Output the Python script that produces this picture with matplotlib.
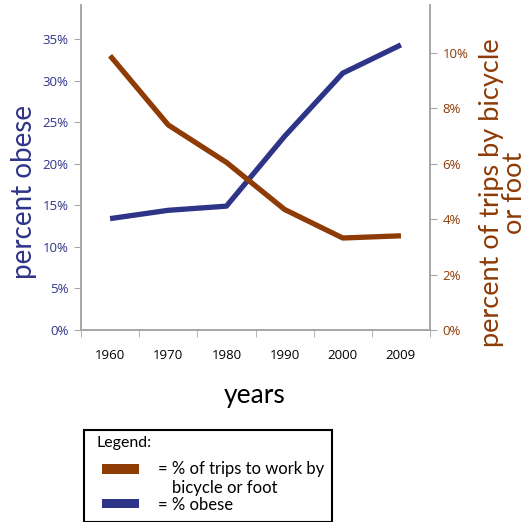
import matplotlib
matplotlib.use("Agg")
import matplotlib.pyplot as plt
from matplotlib.patches import Rectangle
from matplotlib.ticker import FuncFormatter, FixedLocator

years = ["1960", "1970", "1980", "1990", "2000", "2009"]
obese = [13.4, 14.4, 14.9, 23.3, 30.9, 34.3]
trips = [9.9, 7.4, 6.05, 4.35, 3.32, 3.4]
left_ticks = [0, 5, 10, 15, 20, 25, 30, 35]
right_ticks = [0, 2, 4, 6, 8, 10]

BLUE = "#2E3488"
BROWN = "#8E3B06"
GRAY = "#A6A6A6"
TITLE_FONT = ['Lato', 'DejaVu Sans']

plt.rcParams['font.family'] = ['Open Sans', 'DejaVu Sans']

fig = plt.figure(figsize=(5.27, 5.22), dpi=100)
ax = fig.add_axes([81/527, 1-330/522, 349/527, 325/522])
ax2 = ax.twinx()

x = list(range(len(years)))
ax.plot(x, obese, color=BLUE, lw=3.8, solid_capstyle='butt', zorder=3)
ax2.plot(x, trips, color=BROWN, lw=3.8, solid_capstyle='butt', zorder=3)

ax.set_xlim(-0.5, len(years) - 0.5)
ax.set_ylim(0, 39.1)
ax2.set_ylim(0, 11.73)

ax.set_xticks(x)
ax.set_xticklabels(years, fontsize=9.5, color='black')
ax.tick_params(axis='x', which='major', length=0, pad=14)
ax.xaxis.set_minor_locator(FixedLocator([i + 0.5 for i in range(len(years) - 1)] + [-0.5, len(years)-0.5]))
ax.tick_params(axis='x', which='minor', length=5, color=GRAY, direction='out')

ax.set_yticks(left_ticks)
ax.yaxis.set_major_formatter(FuncFormatter(lambda v, p: f"{int(v)}%"))
ax.tick_params(axis='y', length=5, color=GRAY, labelcolor=BLUE, labelsize=9.5, pad=4)
ax2.set_yticks(right_ticks)
ax2.yaxis.set_major_formatter(FuncFormatter(lambda v, p: f"{int(v)}%"))
ax2.tick_params(axis='y', length=5, color=GRAY, labelcolor=BROWN, labelsize=9.5, pad=4)

for a in (ax, ax2):
    a.spines['top'].set_visible(False)
    for s in ('left', 'right', 'bottom'):
        a.spines[s].set_color(GRAY)
        a.spines[s].set_linewidth(1.2)

fig.text(24/527, 1-192/522, "percent obese", color=BLUE, fontsize=20, rotation=90,
         ha='center', va='center', family=TITLE_FONT)
fig.text(503/527, 1-193/522, "percent of trips by bicycle\nor foot", color=BROWN, fontsize=19.5,
         rotation=90, ha='center', va='center', linespacing=0.95, multialignment='center',
         family=TITLE_FONT)

fig.text(255/527, 1-395/522, "years", fontsize=19, ha='center', va='center',
         family=TITLE_FONT)

# Legend box
fig.patches.append(Rectangle((84/527, 1-522/522), (332-84)/527, (522-430)/522,
                             transform=fig.transFigure, fill=False, ec='black', lw=1.5))
fig.text(97/527, 1-443/522, "Legend:", fontsize=11.5, ha='left', va='center',
         family=TITLE_FONT)
fig.patches.append(Rectangle((102/527, 1-474/522), 37/527, 10/522, transform=fig.transFigure,
                             color=BROWN, lw=0))
fig.text(158/527, 1-469/522, "= % of trips to work by", fontsize=12, ha='left', va='center',
         family=TITLE_FONT)
fig.text(172/527, 1-488/522, "bicycle or foot", fontsize=12, ha='left', va='center',
         family=TITLE_FONT)
fig.patches.append(Rectangle((102/527, 1-508/522), 37/527, 9/522, transform=fig.transFigure,
                             color=BLUE, lw=0))
fig.text(158/527, 1-505/522, "= % obese", fontsize=12, ha='left', va='center',
         family=TITLE_FONT)

fig.savefig("out.png", dpi=100)
